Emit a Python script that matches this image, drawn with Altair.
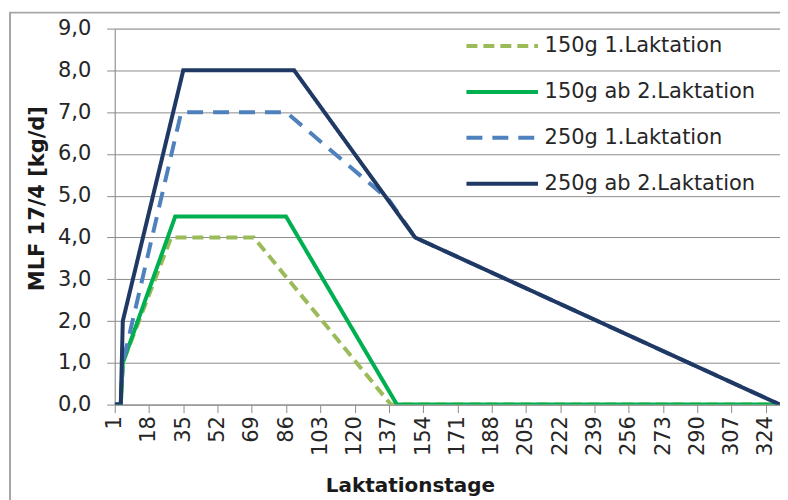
import altair as alt
import pandas as pd

series_names = ["150g 1.Laktation", "150g ab 2.Laktation", "250g 1.Laktation", "250g ab 2.Laktation"]

days_150_1 = [1, 4, 5, 29, 70, 138, 331]
vals_150_1 = [0, 0, 1.0, 4.0, 4.0, 0, 0]

days_150_2 = [1, 4, 5, 31, 86, 141, 331]
vals_150_2 = [0, 0, 1.0, 4.5, 4.5, 0, 0]

days_250_1 = [1, 4, 5, 34, 86, 137, 150, 331]
vals_250_1 = [0, 0, 1.0, 7.0, 7.0, 4.9, 4.0, 0]

days_250_2 = [1, 4, 5, 35, 90, 150, 331]
vals_250_2 = [0, 0, 2.0, 8.0, 8.0, 4.0, 0]

x_ticks = list(range(1, 325, 17))
y_ticks = [0, 1, 2, 3, 4, 5, 6, 7, 8, 9]

colors = ["#9BBB59", "#00B050", "#4F81BD", "#1F3864"]
dashes = [[11, 6], [1, 0], [16, 10], [1, 0]]

rows = []
for name, ds, vs in zip(series_names,
                        [days_150_1, days_150_2, days_250_1, days_250_2],
                        [vals_150_1, vals_150_2, vals_250_1, vals_250_2]):
    for d, v in zip(ds, vs):
        rows.append({"series": name, "day": d, "value": v})
df = pd.DataFrame(rows)

FONT = "DejaVu Sans"


def make_legend():
    return alt.Legend(title=None, orient="none", legendX=366, legendY=-5,
                      direction="vertical",
                      labelFont=FONT, labelFontSize=21, labelColor="#262626",
                      labelLimit=0,
                      symbolType="M-1.75,0H1.75", symbolSize=1681,
                      symbolStrokeWidth=4, labelOffset=20,
                      rowPadding=13, padding=0)


lines = alt.Chart(df).mark_line(strokeWidth=4, clip=True).encode(
    x=alt.X("day:Q",
            scale=alt.Scale(domain=[1, 331], nice=False, zero=False),
            axis=alt.Axis(values=x_ticks, format="d", labelAngle=270,
                          labelFont=FONT, labelFontSize=21, labelColor="#262626",
                          labelPadding=3, tickSize=8, tickColor="#8C8C8C",
                          domainColor="#8C8C8C", grid=False,
                          title="Laktationstage", titleFont=FONT, titleFontSize=20,
                          titleFontWeight="bold", titleColor="#1a1a1a",
                          titleX=296, titleY=87, titleBaseline="alphabetic",
                          titleAlign="center", labelOverlap=False)),
    y=alt.Y("value:Q",
            scale=alt.Scale(domain=[0, 9], nice=False),
            axis=alt.Axis(values=y_ticks,
                          labelExpr="replace(format(datum.value, '.1f'), '.', ',')",
                          labelFont=FONT, labelFontSize=21, labelColor="#262626",
                          labelPadding=16, tickSize=8, tickColor="#8C8C8C",
                          domainColor="#8C8C8C", gridColor="#8C8C8C", grid=True,
                          title="MLF 17/4 [kg/d]", titleFont=FONT, titleFontSize=21,
                          titleFontWeight="bold", titleColor="#1a1a1a",
                          titleX=-77, titleY=170, titleAngle=270,
                          titleBaseline="middle", titleAlign="center")),
    color=alt.Color("series:N",
                    scale=alt.Scale(domain=series_names, range=colors),
                    legend=make_legend()),
    strokeDash=alt.StrokeDash("series:N",
                              scale=alt.Scale(domain=series_names, range=dashes),
                              legend=make_legend()),
    order=alt.Order("day:Q"),
)

frame = alt.Chart(pd.DataFrame({"k": [0]})).mark_rect(
    fill=None, fillOpacity=0, stroke="#A6A6A6", strokeWidth=2, clip=False
).encode(
    x=alt.value(-105), x2=alt.value(700), y=alt.value(-16), y2=alt.value(520)
)

chart = alt.layer(frame, lines).properties(
    width=667, height=377,
    autosize=alt.AutoSizeParams(type="none"),
    padding={"left": 107, "top": 20, "right": 0, "bottom": 95},
).configure_view(stroke="#8C8C8C", strokeWidth=1).configure(background="white")

chart.save("out.html", embed_options={"renderer": "svg", "actions": False})
